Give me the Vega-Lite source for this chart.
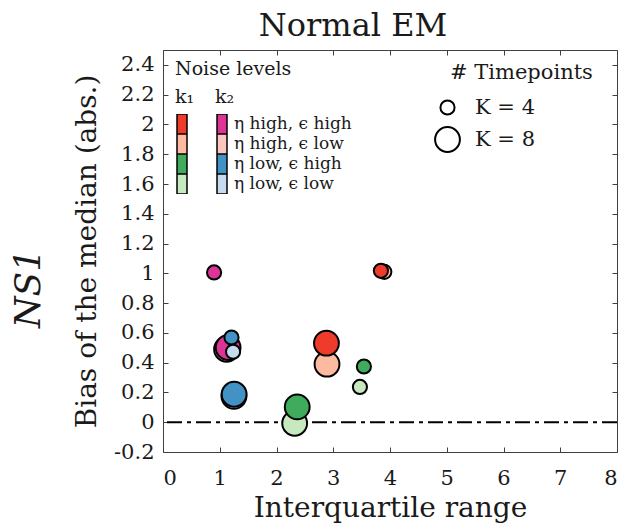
{
  "$schema": "https://vega.github.io/schema/vega-lite/v6.json",
  "autosize": {"type": "none"},
  "width": 454,
  "height": 402,
  "padding": {"left": 163, "top": 50, "right": 9, "bottom": 79},
  "background": "white",
  "config": {
    "font": "DejaVu Serif",
    "view": {"stroke": "#404040", "strokeWidth": 1},
    "axis": {
      "labelFont": "DejaVu Serif",
      "titleFont": "DejaVu Serif",
      "labelColor": "#1a1a1a",
      "titleColor": "#1a1a1a",
      "titleFontWeight": "normal",
      "grid": false,
      "domain": false,
      "tickColor": "#404040",
      "tickSize": -5,
      "tickWidth": 1
    },
    "legend": {
      "labelFont": "DejaVu Serif",
      "titleFont": "DejaVu Serif",
      "labelColor": "#1a1a1a",
      "titleColor": "#1a1a1a",
      "titleFontWeight": "normal",
      "padding": 0
    }
  },
  "title": {
    "text": "Normal EM",
    "font": "DejaVu Serif",
    "fontSize": 32,
    "fontWeight": "normal",
    "color": "#1a1a1a",
    "offset": 7,
    "dx": -37
  },
  "datasets": {
    "k1": [
      {"noise": "η high, ϵ low", "K": "K = 4", "iqr": 3.9, "bias": 1.01},
      {"noise": "η high, ϵ high", "K": "K = 4", "iqr": 3.84, "bias": 1.017},
      {"noise": "η low, ϵ low", "K": "K = 4", "iqr": 3.47, "bias": 0.237},
      {"noise": "η low, ϵ high", "K": "K = 4", "iqr": 3.54, "bias": 0.374},
      {"noise": "η high, ϵ low", "K": "K = 8", "iqr": 2.89, "bias": 0.39},
      {"noise": "η high, ϵ high", "K": "K = 8", "iqr": 2.88, "bias": 0.531},
      {"noise": "η low, ϵ low", "K": "K = 8", "iqr": 2.32, "bias": -0.007},
      {"noise": "η low, ϵ high", "K": "K = 8", "iqr": 2.365, "bias": 0.103}
    ],
    "k2": [
      {"noise": "η high, ϵ low", "K": "K = 4", "iqr": 1.16, "bias": 0.5},
      {"noise": "η high, ϵ low", "K": "K = 8", "iqr": 1.12, "bias": 0.49},
      {"noise": "η high, ϵ high", "K": "K = 8", "iqr": 1.147, "bias": 0.502},
      {"noise": "η low, ϵ low", "K": "K = 8", "iqr": 1.25, "bias": 0.174},
      {"noise": "η low, ϵ high", "K": "K = 8", "iqr": 1.253, "bias": 0.188},
      {"noise": "η low, ϵ high", "K": "K = 4", "iqr": 1.207, "bias": 0.569},
      {"noise": "η low, ϵ low", "K": "K = 4", "iqr": 1.235, "bias": 0.473},
      {"noise": "η high, ϵ high", "K": "K = 4", "iqr": 0.9, "bias": 1.006}
    ]
  },
  "layer": [
    {
      "data": {"values": [{"bias": 0}]},
      "mark": {"type": "rule", "color": "black", "strokeWidth": 2, "strokeDash": [15, 5, 4, 5]},
      "encoding": {
        "y": {
          "field": "bias",
          "type": "quantitative",
          "scale": {"domain": [-0.2, 2.5], "nice": false, "zero": false},
          "axis": {
            "orient": "left",
            "labels": false,
            "ticks": false,
            "title": "NS1",
            "titleFontSize": 36,
            "titleFontStyle": "italic",
            "titleAngle": -90,
            "titleAlign": "center",
            "titleBaseline": "middle",
            "titleX": -135,
            "titleY": 238
          }
        }
      }
    },
    {
      "data": {"name": "k1"},
      "mark": {"type": "circle", "stroke": "black", "strokeWidth": 2, "opacity": 1, "fillOpacity": 1},
      "encoding": {
        "x": {
          "field": "iqr",
          "type": "quantitative",
          "scale": {"domain": [0, 8], "nice": false, "zero": false},
          "axis": {
            "orient": "bottom",
            "values": [0, 1, 2, 3, 4, 5, 6, 7, 8],
            "labelFontSize": 21,
            "labelPadding": 20,
            "title": "Interquartile range",
            "titleFontSize": 28,
            "titlePadding": 6
          }
        },
        "y": {
          "field": "bias",
          "type": "quantitative",
          "scale": {"domain": [-0.2, 2.5], "nice": false, "zero": false},
          "axis": {
            "orient": "left",
            "values": [-0.2, 0, 0.2, 0.4, 0.6, 0.8, 1, 1.2, 1.4, 1.6, 1.8, 2, 2.2, 2.4],
            "labelExpr": "datum.value < 0 ? '-' + format(-datum.value, '~g') : format(datum.value, '~g')",
            "labelFontSize": 21,
            "labelPadding": 14,
            "title": "Bias of the median (abs.)",
            "titleFontSize": 28,
            "titlePadding": 12
          }
        },
        "fill": {
          "field": "noise",
          "type": "nominal",
          "scale": {
            "domain": ["η high, ϵ high", "η high, ϵ low", "η low, ϵ high", "η low, ϵ low"],
            "range": ["#EF3B2C", "#FCBBA1", "#41AB5D", "#C7E9C0"]
          },
          "legend": {
            "orient": "none",
            "legendX": 12,
            "legendY": 10,
            "title": ["Noise levels", "k₁"],
            "titleFontSize": 19,
            "titleLineHeight": 28,
            "titlePadding": 7,
            "symbolType": "M-0.5,-1H0.5V1H-0.5Z",
            "symbolSize": 400,
            "symbolOffset": -4,
            "rowPadding": 0,
            "clipHeight": 20,
            "labelExpr": "''",
            "labelOffset": 0,
            "encode": {
              "symbols": {
                "update": {
                  "shape": {"value": "M-0.5,-1H0.5V1H-0.5Z"},
                  "size": {"value": 400},
                  "stroke": {"value": "#555555"},
                  "strokeWidth": {"value": 1}
                }
              }
            }
          }
        },
        "size": {
          "field": "K",
          "type": "ordinal",
          "scale": {"domain": ["K = 4", "K = 8"], "range": [200, 615]},
          "legend": {
            "orient": "none",
            "legendX": 287,
            "legendY": 12,
            "title": "# Timepoints",
            "titleFontSize": 21,
            "titlePadding": 14,
            "labelFontSize": 21,
            "rowPadding": 4,
            "symbolOffset": -16,
            "labelOffset": 14,
            "symbolFillColor": "white",
            "symbolStrokeColor": "black",
            "symbolStrokeWidth": 2,
            "encode": {
              "symbols": {
                "enter": {"fill": {"value": "white"}, "stroke": {"value": "black"}, "strokeWidth": {"value": 2}},
                "update": {"fill": {"value": "white"}, "stroke": {"value": "black"}, "strokeWidth": {"value": 2}}
              }
            }
          }
        }
      }
    },
    {
      "data": {"name": "k2"},
      "mark": {"type": "circle", "stroke": "black", "strokeWidth": 2, "opacity": 1, "fillOpacity": 1},
      "encoding": {
        "x": {
          "field": "iqr",
          "type": "quantitative",
          "scale": {"domain": [0, 8], "nice": false, "zero": false},
          "axis": {"orient": "top", "values": [0, 1, 2, 3, 4, 5, 6, 7, 8], "labels": false, "title": null}
        },
        "y": {
          "field": "bias",
          "type": "quantitative",
          "scale": {"domain": [-0.2, 2.5], "nice": false, "zero": false},
          "axis": {"orient": "right", "values": [-0.2, 0, 0.2, 0.4, 0.6, 0.8, 1, 1.2, 1.4, 1.6, 1.8, 2, 2.2, 2.4], "labels": false, "title": null}
        },
        "fill": {
          "field": "noise",
          "type": "nominal",
          "scale": {
            "domain": ["η high, ϵ high", "η high, ϵ low", "η low, ϵ high", "η low, ϵ low"],
            "range": ["#DD3497", "#FCC5C0", "#4292C6", "#C6DBEF"]
          },
          "legend": {
            "orient": "none",
            "legendX": 52,
            "legendY": 38,
            "title": "k₂",
            "titleFontSize": 19,
            "titleLineHeight": 28,
            "titlePadding": 7,
            "symbolType": "M-0.5,-1H0.5V1H-0.5Z",
            "symbolSize": 400,
            "symbolOffset": -4,
            "rowPadding": 0,
            "clipHeight": 20,
            "labelFontSize": 17,
            "labelOffset": 1,
            "labelLimit": 300,
            "encode": {
              "symbols": {
                "update": {
                  "shape": {"value": "M-0.5,-1H0.5V1H-0.5Z"},
                  "size": {"value": 400},
                  "stroke": {"value": "#555555"},
                  "strokeWidth": {"value": 1}
                }
              }
            }
          }
        },
        "size": {
          "field": "K",
          "type": "ordinal",
          "scale": {"domain": ["K = 4", "K = 8"], "range": [200, 615]},
          "legend": {
            "orient": "none",
            "legendX": 287,
            "legendY": 12,
            "title": "# Timepoints",
            "titleFontSize": 21,
            "titlePadding": 14,
            "labelFontSize": 21,
            "rowPadding": 4,
            "symbolOffset": -16,
            "labelOffset": 14,
            "symbolFillColor": "white",
            "symbolStrokeColor": "black",
            "symbolStrokeWidth": 2,
            "encode": {
              "symbols": {
                "enter": {"fill": {"value": "white"}, "stroke": {"value": "black"}, "strokeWidth": {"value": 2}},
                "update": {"fill": {"value": "white"}, "stroke": {"value": "black"}, "strokeWidth": {"value": 2}}
              }
            }
          }
        }
      }
    }
  ],
  "resolve": {
    "scale": {"fill": "independent"},
    "legend": {"fill": "independent"},
    "axis": {"x": "independent", "y": "independent"}
  }
}
